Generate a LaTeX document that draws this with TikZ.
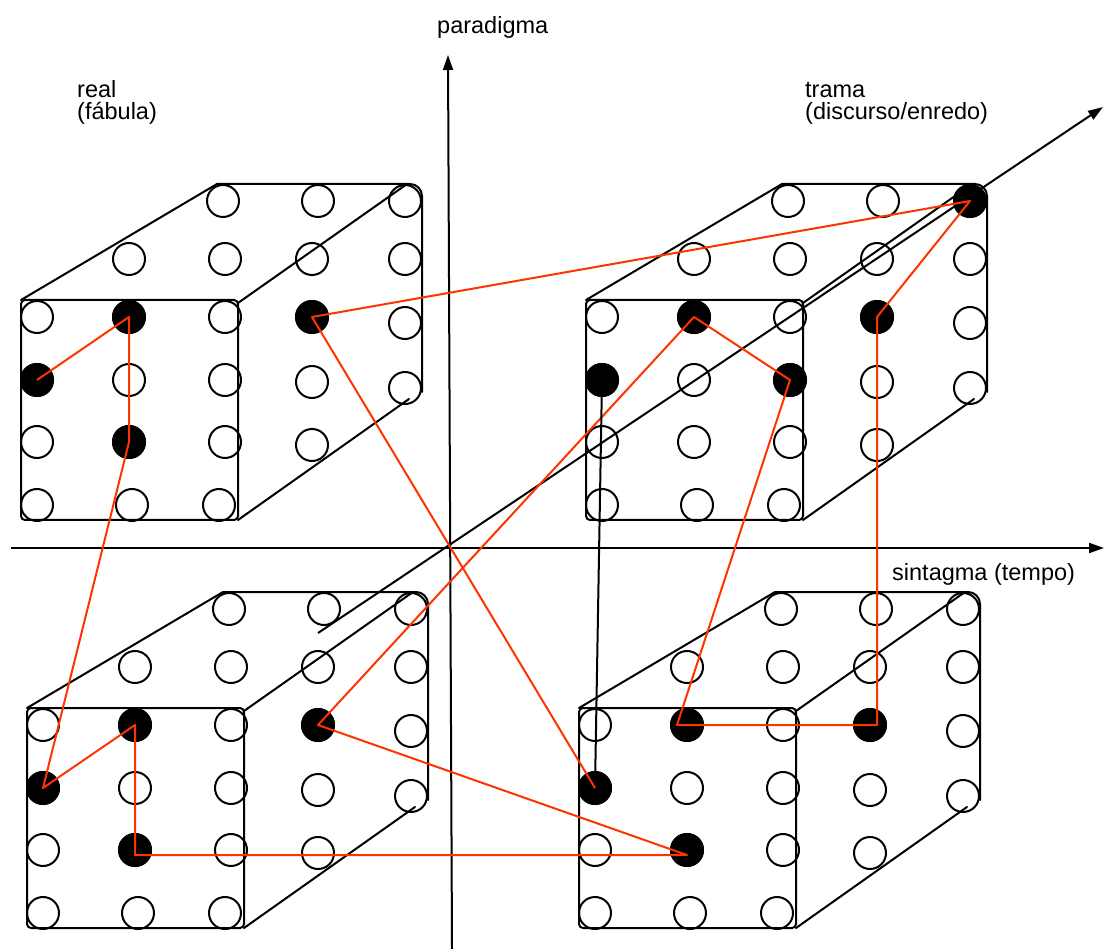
\documentclass[tikz,border=0pt]{standalone}
\usepackage{fontspec}
\setmainfont{Liberation Sans}
\usetikzlibrary{arrows.meta}
\definecolor{redline}{RGB}{255,51,0}
\tikzset{
  dot/.style={circle,draw=black,line width=2pt,minimum size=32pt,inner sep=0pt},
  edge/.style={line width=2pt,line cap=round},
  axis/.style={line width=2pt,-{Triangle[length=15pt,width=10pt]}},
  redpath/.style={draw=redline,line width=2pt,line join=round},
  lbl/.style={font=\fontsize{23.5}{22}\selectfont,align=left,inner sep=0pt,anchor=base west}
}
\newcommand\drawcube[4]{%
  \begin{scope}[shift={(#2,#3)}]
    \draw[edge,rounded corners=4pt] (21,300) rectangle (238,520);
    \draw[edge] (21,300) -- (217,184);
    \draw[edge,rounded corners=12pt] (217,184) -- (422,184) -- (422,392);
    \draw[edge] (238,303) -- (407,184);
    \draw[edge] (238,520) -- (409,399);
    \foreach \id/\x/\y in {a1/37/317,a2/129/317,a3/225/317,
                           b1/37/380,b2/129/380,b3/225/380,
                           c1/37/442,c2/129/442,c3/225/442,
                           d1/37/505,d2/132/505,d3/219/505,
                           t1/129/259,t2/225/259,t3/312/259,
                           u1/223/201,u2/318/201,u3/405/201,
                           r1/312/317,r2/312/382,r3/312/445,
                           s1/405/259,s2/405/323,s3/405/388}
      {\node[dot] (#1-\id) at (\x,\y) {};}
    \foreach \f in {#4} {\fill (#1-\f.center) circle[radius=17pt];}
  \end{scope}}
\begin{document}
\begin{tikzpicture}[x=1pt,y=-1pt]
\useasboundingbox (0,0) rectangle (1104,949);
% axes
\coordinate (h0) at (11,548);
\coordinate (h1) at (1104,548);
\coordinate (v0) at (452,949);
\coordinate (v1) at (448,55);
\coordinate (z0) at (318,633);
\coordinate (z1) at (1103,107);
\draw[axis] (h0) -- (h1);
\draw[axis] (v0) -- (v1);
\draw[axis] (z0) -- (z1);
% cubes
\drawcube{A}{0}{0}{a2,b1,c2,r1}
\drawcube{B}{565}{0}{a2,b1,b3,r1,u3}
\drawcube{C}{6}{408}{a2,b1,c2,r1}
\drawcube{D}{558}{408}{a2,b1,c2,r1}
% path
\draw[redpath] (A-b1.center) -- (A-a2.center) -- (A-c2.center) -- (C-b1.center)
  -- (C-a2.center) -- ([yshift=-5pt]C-c2.center) -- ([yshift=-5pt]D-c2.center) -- (C-r1.center)
  -- (B-a2.center) -- (B-b3.center) -- ([xshift=-10pt]D-a2.center)
  -- (D-a2.center -| B-r1.center) -- (B-r1.center) -- (B-u3.center)
  -- (A-r1.center) -- (D-b1.center);
\draw[edge] (D-b1) -- (B-b1);
% labels
\node[lbl] (lp) at (437,34) {paradigma};
\node[lbl] (lr) at (77,120) {real\\(fábula)};
\node[lbl] (lt) at (805,120) {trama\\(discurso/enredo)};
\node[lbl] (ls) at (892,580) {sintagma (tempo)};
\end{tikzpicture}
\end{document}
